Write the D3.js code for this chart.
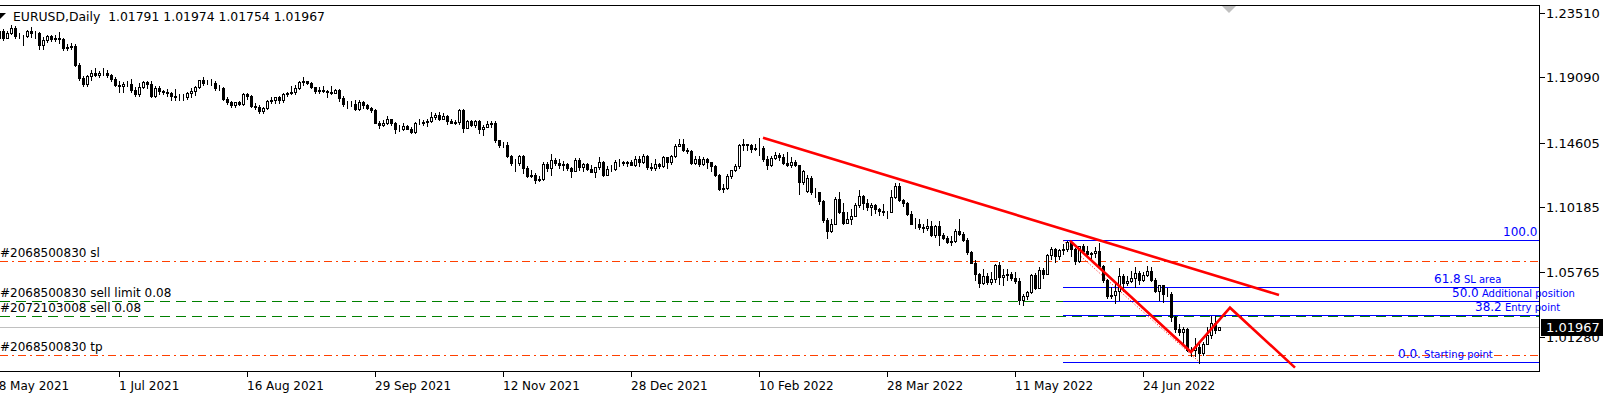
<!DOCTYPE html>
<html>
<head>
<meta charset="utf-8">
<script src="https://cdn.jsdelivr.net/npm/d3@7"></script>
<style>
body { margin: 0; background: #fff; }
svg { display: block; font-family: "DejaVu Sans", sans-serif; }
</style>
</head>
<body>
<div id="chart"></div>
<script>
// EURUSD daily bars, 18 May 2021 .. 21 Jul 2022 (one bar per weekday)
var opens = [
1.2153,1.2225,1.2175,1.2226,1.2180,1.2214,1.2249,1.2192,1.2193,1.2191,
1.2227,1.2213,1.2212,1.2127,1.2166,1.2192,1.2172,1.2180,1.2174,1.2107,
1.2119,1.2126,1.1995,1.1906,1.1864,1.1917,1.1940,1.1926,1.1935,1.1936,
1.1925,1.1896,1.1858,1.1847,1.1864,1.1862,1.1822,1.1792,1.1843,1.1875,
1.1860,1.1777,1.1836,1.1811,1.1806,1.1800,1.1780,1.1770,1.1771,1.1771,
1.1801,1.1817,1.1844,1.1887,1.1870,1.1868,1.1867,1.1836,1.1833,1.1761,
1.1736,1.1718,1.1739,1.1728,1.1794,1.1778,1.1711,1.1708,1.1675,1.1697,
1.1747,1.1755,1.1773,1.1751,1.1795,1.1799,1.1806,1.1837,1.1875,1.1880,
1.1867,1.1839,1.1817,1.1823,1.1816,1.1806,1.1804,1.1818,1.1764,1.1725,
1.1726,1.1726,1.1689,1.1740,1.1719,1.1698,1.1683,1.1597,1.1579,1.1595,
1.1620,1.1598,1.1554,1.1553,1.1572,1.1553,1.1530,1.1594,1.1596,1.1600,
1.1608,1.1636,1.1653,1.1623,1.1645,1.1609,1.1596,1.1605,1.1681,1.1558,
1.1606,1.1582,1.1610,1.1554,1.1568,1.1588,1.1595,1.1478,1.1445,1.1445,
1.1368,1.1320,1.1319,1.1369,1.1287,1.1235,1.1236,1.1202,1.1209,1.1317,
1.1289,1.1338,1.1320,1.1305,1.1315,1.1286,1.1268,1.1344,1.1290,1.1316,
1.1283,1.1259,1.1290,1.1330,1.1239,1.1280,1.1281,1.1330,1.1327,1.1323,
1.1328,1.1310,1.1351,1.1327,1.1370,1.1294,1.1286,1.1313,1.1297,1.1359,
1.1326,1.1368,1.1439,1.1454,1.1411,1.1403,1.1324,1.1345,1.1311,1.1345,
1.1325,1.1302,1.1240,1.1143,1.1147,1.1235,1.1272,1.1303,1.1441,1.1450,
1.1441,1.1418,1.1424,1.1426,1.1348,1.1307,1.1358,1.1375,1.1361,1.1322,
1.1308,1.1326,1.1307,1.1191,1.1130,1.1218,1.1125,1.1120,1.1063,1.0931,
1.0854,1.0903,1.1077,1.0986,1.0912,1.0940,1.0956,1.1033,1.1094,1.1050,
1.1016,1.1030,1.1003,1.0995,1.0983,1.0984,1.1087,1.1160,1.1067,1.1050,
1.0972,1.0904,1.0904,1.0879,1.0877,1.0887,1.0829,1.0891,1.0828,1.0808,
1.0781,1.0788,1.0852,1.0837,1.0796,1.0712,1.0637,1.0560,1.0498,1.0545,
1.0507,1.0525,1.0623,1.0541,1.0551,1.0561,1.0530,1.0513,1.0380,1.0411,
1.0437,1.0553,1.0465,1.0587,1.0563,1.0690,1.0734,1.0680,1.0727,1.0733,
1.0780,1.0733,1.0649,1.0749,1.0719,1.0697,1.0705,1.0716,1.0615,1.0519,
1.0409,1.0418,1.0445,1.0547,1.0496,1.0514,1.0535,1.0568,1.0521,1.0553,
1.0583,1.0518,1.0443,1.0484,1.0425,1.0424,1.0264,1.0183,1.0160,1.0185,
1.0037,1.0036,1.0063,1.0018,1.0081,1.0140,1.0226,1.01791
];
var highs = [
1.2245,1.2228,1.2245,1.2237,1.2225,1.2266,1.2260,1.2210,1.2200,1.2231,
1.2255,1.2229,1.2218,1.2184,1.2196,1.2196,1.2195,1.2218,1.2180,1.2135,
1.2140,1.2137,1.2004,1.1914,1.1923,1.1955,1.1975,1.1953,1.1975,1.1960,
1.1932,1.1907,1.1885,1.1876,1.1882,1.1895,1.1839,1.1868,1.1880,1.1880,
1.1881,1.1850,1.1849,1.1822,1.1826,1.1806,1.1830,1.1793,1.1792,1.1807,
1.1835,1.1852,1.1892,1.1908,1.1892,1.1899,1.1881,1.1857,1.1840,1.1771,
1.1746,1.1742,1.1745,1.1801,1.1804,1.1784,1.1729,1.1716,1.1702,1.1752,
1.1770,1.1776,1.1780,1.1802,1.1810,1.1846,1.1857,1.1884,1.1909,1.1886,
1.1873,1.1844,1.1845,1.1848,1.1822,1.1846,1.1830,1.1831,1.1779,1.1745,
1.1748,1.1753,1.1750,1.1746,1.1726,1.1705,1.1689,1.1607,1.1613,1.1641,
1.1624,1.1605,1.1583,1.1592,1.1580,1.1568,1.1600,1.1624,1.1617,1.1621,
1.1669,1.1666,1.1667,1.1665,1.1649,1.1625,1.1614,1.1692,1.1692,1.1616,
1.1614,1.1616,1.1615,1.1584,1.1609,1.1608,1.1609,1.1480,1.1464,1.1464,
1.1375,1.1349,1.1374,1.1375,1.1302,1.1275,1.1250,1.1229,1.1325,1.1330,
1.1383,1.1353,1.1350,1.1333,1.1320,1.1296,1.1355,1.1352,1.1318,1.1319,
1.1308,1.1296,1.1360,1.1337,1.1303,1.1307,1.1341,1.1345,1.1335,1.1334,
1.1344,1.1369,1.1367,1.1385,1.1375,1.1321,1.1347,1.1320,1.1369,1.1362,
1.1375,1.1448,1.1482,1.1482,1.1423,1.1407,1.1370,1.1369,1.1363,1.1357,
1.1330,1.1309,1.1245,1.1175,1.1245,1.1275,1.1311,1.1450,1.1483,1.1453,
1.1449,1.1448,1.1495,1.1437,1.1368,1.1366,1.1395,1.1386,1.1380,1.1395,
1.1364,1.1344,1.1309,1.1274,1.1238,1.1234,1.1152,1.1125,1.1068,1.0946,
1.0934,1.1085,1.1121,1.1044,1.0982,1.1006,1.1044,1.1137,1.1102,1.1071,
1.1046,1.1042,1.1014,1.1038,1.0993,1.1138,1.1185,1.1181,1.1077,1.1054,
1.0995,1.0945,1.0938,1.0905,1.0934,1.0923,1.0898,1.0924,1.0843,1.0820,
1.0818,1.0866,1.0936,1.0851,1.0806,1.0721,1.0654,1.0565,1.0593,1.0566,
1.0573,1.0628,1.0641,1.0593,1.0597,1.0575,1.0577,1.0530,1.0420,1.0443,
1.0563,1.0565,1.0605,1.0600,1.0698,1.0748,1.0737,1.0733,1.0765,1.0786,
1.0781,1.0738,1.0755,1.0765,1.0752,1.0712,1.0748,1.0774,1.0621,1.0527,
1.0470,1.0506,1.0601,1.0557,1.0545,1.0583,1.0606,1.0581,1.0571,1.0615,
1.0606,1.0531,1.0487,1.0486,1.0464,1.0436,1.0275,1.0220,1.0200,1.0188,
1.0060,1.0122,1.0081,1.0097,1.0200,1.0269,1.0274,1.01974
];
var lows = [
1.2151,1.2152,1.2162,1.2161,1.2175,1.2208,1.2180,1.2177,1.2133,1.2186,
1.2187,1.2180,1.2104,1.2102,1.2150,1.2155,1.2160,1.2144,1.2093,1.2092,
1.2100,1.1986,1.1891,1.1847,1.1849,1.1890,1.1916,1.1911,1.1921,1.1911,
1.1882,1.1847,1.1807,1.1808,1.1852,1.1807,1.1782,1.1781,1.1838,1.1837,
1.1772,1.1773,1.1792,1.1795,1.1780,1.1755,1.1752,1.1752,1.1755,1.1761,
1.1772,1.1789,1.1835,1.1853,1.1859,1.1854,1.1820,1.1820,1.1754,1.1728,
1.1705,1.1705,1.1716,1.1719,1.1762,1.1704,1.1691,1.1666,1.1664,1.1690,
1.1735,1.1735,1.1735,1.1737,1.1781,1.1797,1.1796,1.1826,1.1856,1.1859,
1.1833,1.1802,1.1800,1.1806,1.1770,1.1794,1.1800,1.1746,1.1714,1.1700,
1.1714,1.1683,1.1684,1.1700,1.1690,1.1668,1.1592,1.1563,1.1572,1.1585,
1.1580,1.1529,1.1541,1.1546,1.1551,1.1524,1.1525,1.1585,1.1581,1.1571,
1.1599,1.1623,1.1618,1.1619,1.1591,1.1592,1.1585,1.1585,1.1535,1.1558,
1.1575,1.1570,1.1529,1.1513,1.1566,1.1570,1.1464,1.1432,1.1433,1.1360,
1.1308,1.1264,1.1309,1.1250,1.1226,1.1226,1.1186,1.1200,1.1205,1.1265,
1.1236,1.1305,1.1286,1.1271,1.1271,1.1227,1.1263,1.1273,1.1265,1.1270,
1.1258,1.1222,1.1277,1.1234,1.1237,1.1263,1.1273,1.1303,1.1310,1.1301,
1.1307,1.1301,1.1297,1.1319,1.1282,1.1272,1.1275,1.1285,1.1290,1.1286,
1.1314,1.1360,1.1436,1.1400,1.1390,1.1316,1.1313,1.1299,1.1305,1.1288,
1.1266,1.1234,1.1136,1.1121,1.1140,1.1215,1.1267,1.1285,1.1410,1.1408,
1.1393,1.1410,1.1374,1.1337,1.1281,1.1300,1.1345,1.1339,1.1311,1.1300,
1.1290,1.1299,1.1106,1.1180,1.1120,1.1105,1.1088,1.1038,1.0915,1.0806,
1.0848,1.0900,1.0981,1.0905,1.0912,1.0905,1.0955,1.1018,1.1003,1.0999,
1.0963,1.0978,1.0962,1.0964,1.0945,1.0984,1.1082,1.1058,1.1027,1.0963,
1.0900,1.0874,1.0871,1.0850,1.0863,1.0821,1.0811,1.0758,1.0800,1.0771,
1.0758,1.0780,1.0825,1.0786,1.0697,1.0635,1.0516,1.0472,1.0490,1.0490,
1.0492,1.0505,1.0492,1.0483,1.0521,1.0517,1.0501,1.0354,1.0350,1.0389,
1.0428,1.0460,1.0462,1.0532,1.0557,1.0660,1.0642,1.0660,1.0700,1.0721,
1.0681,1.0627,1.0642,1.0704,1.0684,1.0653,1.0677,1.0603,1.0507,1.0398,
1.0398,1.0359,1.0382,1.0444,1.0484,1.0502,1.0470,1.0489,1.0512,1.0547,
1.0510,1.0437,1.0382,1.0366,1.0412,1.0235,1.0162,1.0144,1.0072,1.0029,
0.9999,0.9998,0.9952,1.0006,1.0080,1.0124,1.0154,1.01754
];
var closes = [
1.2225,1.2175,1.2226,1.2180,1.2214,1.2249,1.2192,1.2193,1.2191,1.2227,
1.2213,1.2212,1.2127,1.2166,1.2192,1.2172,1.2180,1.2174,1.2107,1.2119,
1.2126,1.1995,1.1906,1.1864,1.1917,1.1940,1.1926,1.1935,1.1936,1.1925,
1.1896,1.1858,1.1847,1.1864,1.1862,1.1822,1.1792,1.1843,1.1875,1.1860,
1.1777,1.1836,1.1811,1.1806,1.1800,1.1780,1.1770,1.1771,1.1771,1.1801,
1.1817,1.1844,1.1887,1.1870,1.1868,1.1867,1.1836,1.1833,1.1761,1.1736,
1.1718,1.1739,1.1728,1.1794,1.1778,1.1711,1.1708,1.1675,1.1697,1.1747,
1.1755,1.1773,1.1751,1.1795,1.1799,1.1806,1.1837,1.1875,1.1880,1.1867,
1.1839,1.1817,1.1823,1.1816,1.1806,1.1804,1.1818,1.1764,1.1725,1.1726,
1.1726,1.1689,1.1740,1.1719,1.1698,1.1683,1.1597,1.1579,1.1595,1.1620,
1.1598,1.1554,1.1553,1.1572,1.1553,1.1530,1.1594,1.1596,1.1600,1.1608,
1.1636,1.1653,1.1623,1.1645,1.1609,1.1596,1.1605,1.1681,1.1558,1.1606,
1.1582,1.1610,1.1554,1.1568,1.1588,1.1595,1.1478,1.1445,1.1445,1.1368,
1.1320,1.1319,1.1369,1.1287,1.1235,1.1236,1.1202,1.1209,1.1317,1.1289,
1.1338,1.1320,1.1305,1.1315,1.1286,1.1268,1.1344,1.1290,1.1316,1.1283,
1.1259,1.1290,1.1330,1.1239,1.1280,1.1281,1.1330,1.1327,1.1323,1.1328,
1.1310,1.1351,1.1327,1.1370,1.1294,1.1286,1.1313,1.1297,1.1359,1.1326,
1.1368,1.1439,1.1454,1.1411,1.1403,1.1324,1.1345,1.1311,1.1345,1.1325,
1.1302,1.1240,1.1143,1.1147,1.1235,1.1272,1.1303,1.1441,1.1450,1.1441,
1.1418,1.1424,1.1426,1.1348,1.1307,1.1358,1.1375,1.1361,1.1322,1.1308,
1.1326,1.1307,1.1191,1.1269,1.1218,1.1125,1.1120,1.1063,1.0931,1.0854,
1.0903,1.1077,1.0986,1.0912,1.0940,1.0956,1.1033,1.1094,1.1050,1.1016,
1.1030,1.1003,1.0995,1.0983,1.0984,1.1087,1.1160,1.1067,1.1050,1.0972,
1.0904,1.0904,1.0879,1.0877,1.0887,1.0829,1.0891,1.0828,1.0808,1.0781,
1.0788,1.0852,1.0837,1.0796,1.0712,1.0637,1.0560,1.0498,1.0545,1.0507,
1.0525,1.0623,1.0541,1.0551,1.0561,1.0530,1.0513,1.0380,1.0411,1.0437,
1.0553,1.0465,1.0587,1.0563,1.0690,1.0734,1.0680,1.0727,1.0733,1.0780,
1.0733,1.0649,1.0749,1.0719,1.0697,1.0705,1.0716,1.0615,1.0519,1.0409,
1.0418,1.0445,1.0547,1.0496,1.0514,1.0535,1.0568,1.0521,1.0553,1.0583,
1.0518,1.0443,1.0484,1.0425,1.0424,1.0264,1.0183,1.0160,1.0185,1.0037,
1.0036,1.0063,1.0018,1.0081,1.0140,1.0226,1.0179,1.01967
];

// time axis: one label every 32 bars
var dateLabels = ["18 May 2021","1 Jul 2021","16 Aug 2021","29 Sep 2021","12 Nov 2021",
                  "28 Dec 2021","10 Feb 2022","28 Mar 2022","11 May 2022","24 Jun 2022"];
var dateLabelBars = [0,32,64,96,128,160,192,224,256,288];

// price axis
var priceLabels = [1.23510,1.19090,1.14605,1.10185,1.05765,1.01280];

var symbol = "EURUSD,Daily";
var lastOHLC = ["1.01791","1.01974","1.01754","1.01967"];
var bidPrice = 1.01967;

// trade levels
var orderTexts = ["#2068500830 sl","#2068500830 sell limit 0.08","#2072103008 sell 0.08","#2068500830 tp"];
var orderPrices = [1.0647,1.0378,1.0271,1.0008];
var orderTypes = ["stop","entry","entry","stop"];

// fibonacci retracement (anchor bars / prices)
var fibBars = [268,302];
var fibPrices = [1.0790,0.9959];
var fibLevels = [1.0,0.618,0.5,0.382,0.0];
var fibNumbers = ["100.0","61.8","50.0","38.2","0.0."];
var fibNotes = ["","SL area","Additional position","Entry point","Starting point"];

// red drawings
var trendBars = [193,322];
var trendPrices = [1.1494,1.0416];
var zigBars = [269.75,300,309.75,326];
var zigPrices = [1.0788,1.0025,1.0329,0.9918];

// ---- layout ----
var W = 1606, H = 396;
var plotR = 1539, plotT = 5, plotB = 371;
var fibLabelX = [1503, 1434, 1452, 1475, 1398];

var svg = d3.select("#chart").append("svg")
  .attr("width", W).attr("height", H);

svg.append("rect").attr("width", W).attr("height", H).attr("fill", "#fff");

var x = d3.scaleLinear().domain([2.25, 387]).range([0, plotR]);
var y = d3.scaleLinear().domain([0.98951, 1.24038]).range([plotB, plotT]);
function px(v) { return Math.round(v) + 0.5; }

svg.append("defs").append("clipPath").attr("id", "plot")
  .append("rect").attr("x", 0).attr("y", plotT).attr("width", plotR).attr("height", plotB - plotT);

var plot = svg.append("g").attr("clip-path", "url(#plot)");

// bid line
plot.append("line")
  .attr("x1", 0).attr("x2", plotR)
  .attr("y1", px(y(bidPrice))).attr("y2", px(y(bidPrice)))
  .attr("stroke", "#c0c0c0").attr("shape-rendering", "crispEdges");

// order lines
plot.selectAll(".order").data(orderPrices).join("line")
  .attr("x1", 0).attr("x2", plotR)
  .attr("y1", function(d){ return px(y(d)); }).attr("y2", function(d){ return px(y(d)); })
  .attr("stroke", function(d,i){ return orderTypes[i] == "stop" ? "#ff4000" : "#008000"; })
  .attr("stroke-dasharray", function(d,i){ return orderTypes[i] == "stop" ? "8,4,2,4" : "10,6"; })
  .attr("shape-rendering", "crispEdges");

plot.selectAll(".ordertxt").data(orderTexts).join("text")
  .attr("x", 0).attr("y", function(d,i){ return Math.round(y(orderPrices[i])) - 4; })
  .attr("font-size", 12).attr("fill", "#000")
  .text(function(d){ return d; });

// fib levels
var fibRange = fibPrices[0] - fibPrices[1];
var fibY = fibLevels.map(function(l){ return px(y(fibPrices[1] + l * fibRange)); });
plot.selectAll(".fib").data(fibY).join("line")
  .attr("x1", Math.round(x(fibBars[0]))).attr("x2", plotR)
  .attr("y1", function(d){ return d; }).attr("y2", function(d){ return d; })
  .attr("stroke", "#0000ff").attr("shape-rendering", "crispEdges");

plot.append("line")
  .attr("x1", x(fibBars[0])).attr("y1", y(fibPrices[0]))
  .attr("x2", x(fibBars[1])).attr("y2", y(fibPrices[1]))
  .attr("stroke", "#ff0000").attr("stroke-dasharray", "1,2");

// candles
var idx = d3.range(closes.length);
function cx(i) { return Math.round(x(i)); }
var candles = plot.append("g").attr("shape-rendering", "crispEdges");
candles.selectAll(".wick").data(idx).join("line")
  .attr("x1", function(i){ return cx(i) + 0.5; }).attr("x2", function(i){ return cx(i) + 0.5; })
  .attr("y1", function(i){ return Math.round(y(highs[i])); })
  .attr("y2", function(i){ return Math.round(y(lows[i])) + 1; })
  .attr("stroke", "#000");
candles.selectAll(".body").data(idx).join("rect")
  .attr("x", function(i){ return cx(i) - 0.5; })
  .attr("y", function(i){ return Math.round(y(Math.max(opens[i], closes[i]))) + 0.5; })
  .attr("width", 2)
  .attr("height", function(i){ return Math.max(0, Math.round(y(Math.min(opens[i], closes[i]))) - Math.round(y(Math.max(opens[i], closes[i])))); })
  .attr("fill", function(i){ return closes[i] >= opens[i] ? "#fff" : "#000"; })
  .attr("stroke", "#000");

// trendline and zigzag
var line = d3.line().x(function(d){ return x(d[0]); }).y(function(d){ return y(d[1]); });
plot.append("path")
  .attr("d", line(d3.zip(trendBars, trendPrices)))
  .attr("fill", "none").attr("stroke", "#ff0000").attr("stroke-width", 2.6);
plot.append("path")
  .attr("d", line(d3.zip(zigBars, zigPrices)))
  .attr("fill", "none").attr("stroke", "#ff0000").attr("stroke-width", 2.6)
  .attr("stroke-linejoin", "miter");

// fib labels (may run past the frame)
var fl = svg.append("g").attr("fill", "#0000ff");
fibNumbers.forEach(function(n, i) {
  var t = fl.append("text").attr("x", fibLabelX[i]).attr("y", fibY[i] - 4.5)
    .attr("font-size", 12).attr("xml:space", "preserve");
  t.append("tspan").text(n);
  if (fibNotes[i]) t.append("tspan").attr("font-size", 10).text(" " + fibNotes[i]);
});

// frame
var frame = svg.append("g").attr("stroke", "#000").attr("shape-rendering", "crispEdges");
frame.append("line").attr("x1", 0).attr("x2", plotR + 0.5).attr("y1", plotB + 0.5).attr("y2", plotB + 0.5);
frame.append("line").attr("x1", plotR + 0.5).attr("x2", plotR + 0.5).attr("y1", plotT).attr("y2", plotB + 0.5);
frame.append("line").attr("x1", 0).attr("x2", plotR + 0.5).attr("y1", plotT + 0.5).attr("y2", plotT + 0.5);

// chart shift marker
svg.append("path")
  .attr("d", "M1222,6 L1236,6 L1229,13 Z")
  .attr("fill", "#c0c0c0");

// header
svg.append("path").attr("d", "M0,13 L6,13 L0,19 Z").attr("fill", "#000");
svg.append("text").attr("x", 13).attr("y", 21).attr("font-size", 12.4)
  .attr("xml:space", "preserve").attr("fill", "#000")
  .text(symbol + "  " + lastOHLC.join(" "));

// time axis
var tg = svg.append("g");
dateLabels.forEach(function(lab, i) {
  var xx = px(x(dateLabelBars[i]));
  tg.append("line").attr("x1", xx).attr("x2", xx).attr("y1", plotB).attr("y2", plotB + 6)
    .attr("stroke", "#000").attr("shape-rendering", "crispEdges");
  tg.append("text").attr("x", xx - 0.5).attr("y", 390).attr("font-size", 12).text(lab);
});

// price axis
var pg = svg.append("g");
priceLabels.forEach(function(p) {
  var yy = px(y(p));
  pg.append("line").attr("x1", plotR).attr("x2", plotR + 6).attr("y1", yy).attr("y2", yy)
    .attr("stroke", "#000").attr("shape-rendering", "crispEdges");
  pg.append("text").attr("x", plotR + 7).attr("y", yy).attr("dy", "0.36em")
    .attr("font-size", 13).text(p.toFixed(5));
});

// bid label
var by = Math.round(y(bidPrice));
pg.append("rect").attr("x", plotR + 2).attr("y", by - 8).attr("width", 62).attr("height", 17)
  .attr("fill", "#000");
pg.append("text").attr("x", plotR + 7).attr("y", by + 0.5).attr("dy", "0.36em")
  .attr("font-size", 13).attr("fill", "#fff").text(bidPrice.toFixed(5));
</script>
</body>
</html>
